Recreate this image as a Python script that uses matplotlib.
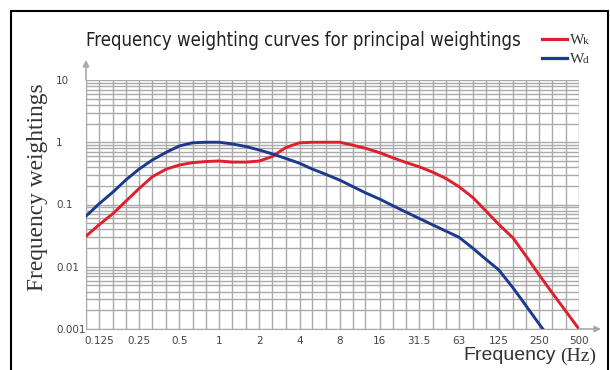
import matplotlib
matplotlib.use("Agg")
import matplotlib.pyplot as plt
from matplotlib import font_manager
from matplotlib.ticker import NullFormatter
from matplotlib.patches import Rectangle
from matplotlib.lines import Line2D

# third-octave centre frequencies (Hz)
freqs = [0.1, 0.125, 0.16, 0.2, 0.25, 0.315, 0.4, 0.5, 0.63, 0.8,
         1, 1.25, 1.6, 2, 2.5, 3.15, 4, 5, 6.3, 8,
         10, 12.5, 16, 20, 25, 31.5, 40, 50, 63, 80,
         100, 125, 160, 200, 250, 315, 400, 500]

wk = [0.031, 0.047, 0.072, 0.114, 0.18, 0.28, 0.37, 0.43, 0.47, 0.49,
      0.50, 0.48, 0.48, 0.50, 0.59, 0.82, 0.98, 1.0, 1.0, 1.0,
      0.90, 0.80, 0.68, 0.565, 0.475, 0.405, 0.33, 0.263, 0.193, 0.129,
      0.079, 0.048, 0.029, 0.0149, 0.0075, 0.0038, 0.0019, 0.001]

wd = [0.065, 0.102, 0.16, 0.25, 0.37, 0.52, 0.69, 0.87, 0.98, 1.0,
      1.0, 0.94, 0.85, 0.75, 0.65, 0.55, 0.46, 0.37, 0.305, 0.247,
      0.195, 0.154, 0.122, 0.096, 0.076, 0.060, 0.047, 0.0375, 0.0297, 0.0198,
      0.0132, 0.0089, 0.00458, 0.00237, 0.00122, 0.00063]

xtick_vals = [0.125, 0.25, 0.5, 1, 2, 4, 8, 16, 31.5, 63, 125, 250, 500]
xtick_text = ["0.125", "0.25", "0.5", "1", "2", "4", "8", "16", "31.5", "63", "125", "250", "500"]
ytick_vals = [0.001, 0.01, 0.1, 1, 10]
ytick_text = ["0.001", "0.01", "0.1", "1", "10"]

RED = "#e01f2d"
BLUE = "#1c3a8c"
GRID = "#aaaaaa"

# look for a narrow sans for the title, else plain Liberation Sans
title_font = font_manager.FontProperties(family="Liberation Sans")
for f in font_manager.fontManager.ttflist:
    if ("Narrow" in f.name or "Condensed" in f.name or f.stretch in ("condensed", "semi-condensed")) \
            and f.style == "normal" and f.weight in (400, "normal", "regular") and "Mono" not in f.name:
        title_font = font_manager.FontProperties(fname=f.fname)
        break

W, H = 610, 370
fig = plt.figure(figsize=(W / 100, H / 100), dpi=100)
ax = fig.add_axes([86 / W, (H - 329) / H, 493 / W, 249 / H])

ax.set_xscale("log")
ax.set_yscale("log")
ax.set_xlim(0.1, 500)
ax.set_ylim(0.001, 10)

# grid: every third octave, every 1..9 per decade
ax.set_xticks(freqs, minor=True)
ax.set_xticks(xtick_vals)
ax.set_xticklabels(xtick_text, fontsize=7.5, color="#444444")
ax.set_yticks([m * 10.0 ** e for e in range(-3, 1) for m in range(1, 10)] + [10], minor=True)
ax.set_yticks(ytick_vals)
ax.set_yticklabels(ytick_text, fontsize=7.5, color="#444444", ha="left")
ax.xaxis.set_minor_formatter(NullFormatter())
ax.yaxis.set_minor_formatter(NullFormatter())
ax.tick_params(which="both", length=0)
ax.tick_params(axis="x", pad=5)
ax.tick_params(axis="y", pad=21.6)
ax.grid(True, which="both", color=GRID, lw=1.0)
for s in ax.spines.values():
    s.set_visible(False)
for side in ("left", "bottom"):
    ax.spines[side].set_visible(True)
    ax.spines[side].set_color(GRID)

ax.plot(freqs[:len(wk)], wk, color=RED, lw=2.1, zorder=3)
ax.plot(freqs[:len(wd)], wd, color=BLUE, lw=2.1, zorder=3)

# axis arrows
arrow = dict(arrowstyle="-|>", color="#a8a8a8", lw=1.2, mutation_scale=9, shrinkA=0, shrinkB=0)
ax.annotate("", xy=(0, 1 + 20 / 249), xytext=(0, 1), xycoords="axes fraction",
            arrowprops=arrow, annotation_clip=False)
ax.annotate("", xy=(1 + 22 / 493, 0), xytext=(1, 0), xycoords="axes fraction",
            arrowprops=arrow, annotation_clip=False)

# title and axis labels
title = fig.text(86 / W, 1 - 40 / H, "Frequency weighting curves for principal weightings",
                 fontproperties=title_font, fontsize=16, color="#222222", va="center", ha="left")
fig.canvas.draw()
tw = title.get_window_extent().width
if tw > 437:
    title.set_fontsize(16 * 437 / tw)

fig.text(38 / W, 1 - 187 / H, "Frequency weightings", family="Liberation Serif",
         fontsize=16.8, color="#333333", rotation=90, va="center", ha="center")
fig.text(463 / W, 1 - 356 / H, "Frequency", family="Liberation Sans",
         fontsize=14, color="#333333", va="center", ha="left")
fig.text(596 / W, 1 - 356 / H, "(Hz)", family="Liberation Serif",
         fontsize=14, color="#333333", va="center", ha="right")

# legend
for y, col, sub in [(39, RED, "k"), (58, BLUE, "d")]:
    fig.add_artist(Line2D([542 / W, 567 / W], [1 - y / H, 1 - y / H],
                          color=col, lw=2.3, transform=fig.transFigure))
    fig.text(570 / W, 1 - (y + 5) / H, "W", family="Liberation Serif",
             fontsize=11, color="#333333", va="baseline", ha="left")
    fig.text(583 / W, 1 - (y + 5) / H, sub, family="Liberation Serif",
             fontsize=8, color="#333333", va="baseline", ha="left")

# frame round the figure
fig.add_artist(Rectangle((11 / W, -0.1), 597 / W, (H - 11) / H + 0.1, fill=False,
                         ec="black", lw=1.5, transform=fig.transFigure))

fig.savefig("out.png", dpi=100)
